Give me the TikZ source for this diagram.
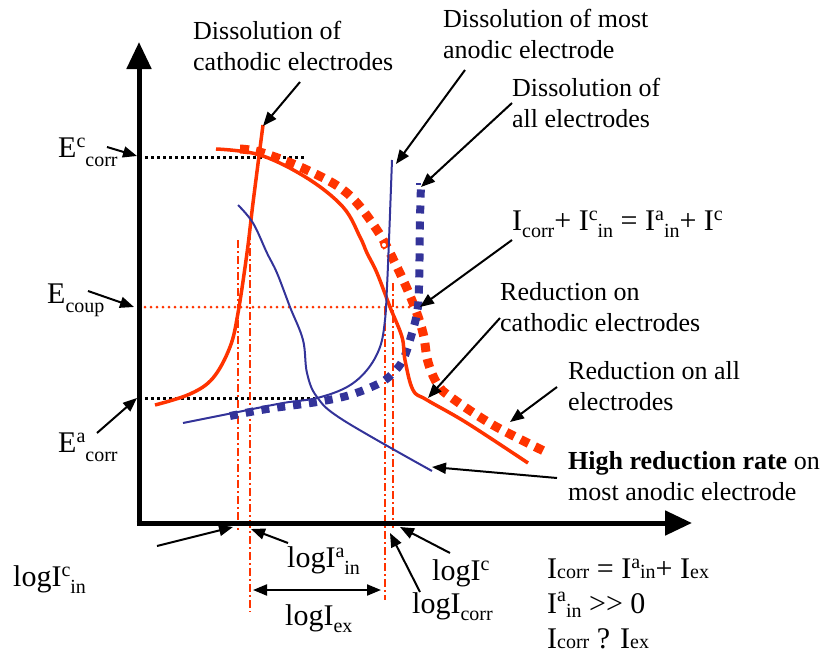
\documentclass[tikz,border=0pt]{standalone}
\usepackage{fontspec}
\setmainfont{Liberation Serif}
\usetikzlibrary{arrows.meta}
\definecolor{cred}{RGB}{255,51,0}
\definecolor{cblue}{RGB}{51,51,153}
\newcommand\Up[2][.32em]{\raisebox{#1}{\fontsize{20}{20}\selectfont #2}}
\newcommand\Dn[2][.25em]{\raisebox{-#1}{\fontsize{20}{20}\selectfont #2}}
\tikzset{
  txt/.style={anchor=base west,inner sep=0pt,align=left,font=\fontsize{26}{31}\selectfont},
  lbl/.style={anchor=base west,inner sep=0pt,align=left,font=\fontsize{30}{35}\selectfont},
  axis/.style={line width=5pt,-{Triangle[length=27pt,width=24pt]}},
  ptr/.style={line width=2pt,-{Triangle[length=14pt,width=11pt]}},
  dbl/.style={line width=2pt,{Triangle[length=14pt,width=11pt]}-{Triangle[length=14pt,width=11pt]}},
  blkdot/.style={line width=3pt,dash pattern=on 3pt off 3pt},
  reddot/.style={cred,line width=3pt,line cap=round,dash pattern=on 0pt off 6pt},
  dashdot/.style={cred,line width=2.5pt,dash pattern=on 8pt off 3pt on 2pt off 3pt},
  redsolid/.style={cred,line width=3.5pt},
  bluesolid/.style={cblue,line width=2pt},
  reddash/.style={cred,line width=9pt,dash pattern=on 9pt off 7pt},
  bluedash/.style={cblue,line width=8pt,dash pattern=on 8pt off 8pt},
}
\begin{document}
\begin{tikzpicture}[x=1pt,y=-1pt]
\useasboundingbox (0,0) rectangle (825,656);
% guide lines
\draw[blkdot] (139,157) -- (305,157);
\draw[blkdot] (139,398) -- (315,398);
\draw[reddot] (139,307) -- (420,307);
\draw[dashdot] (238,240) -- (238,530);
\draw[dashdot] (250,232) -- (250,612);
\draw[dashdot] (385,307) -- (385,600);
\draw[dashdot] (393,283) -- (393,528);
% curves
\draw[reddash] plot[smooth,tension=0.6] coordinates {(240,149) (263,153) (307,170) (347,193) (377,230) (397,267) (413,303) (423,333) (428,362) (438,385) (452,398) (493,425) (546,452)};
\draw[bluedash] plot[smooth,tension=0.6] coordinates {(230,416) (267,409) (317,402) (350,395) (380,383) (393,373) (403,360) (410,340) (417,313) (419,287) (420,220) (421,185)};
\draw[cblue,line width=1.5pt] (416,184) -- (421,184);
\draw[redsolid] plot[smooth,tension=0.6] coordinates {(216,149) (260,155) (307,178) (343,207) (360,237) (367,253) (377,273) (390,307) (402,337) (405,360) (413,390) (427,400) (467,423) (528,463)};
\draw[redsolid] plot[smooth,tension=0.6] coordinates {(155,405) (190,394) (213,378) (230,347) (238,313) (247,253) (253,203) (263,125)};
\draw[bluesolid] plot[smooth,tension=0.6] coordinates {(183,423) (233,413) (283,403) (317,398) (347,387) (367,370) (380,347) (385,320) (387,287) (389,240) (392,160)};
\draw[bluesolid] plot[smooth,tension=0.6] coordinates {(238,205) (253,223) (267,253) (277,273) (290,307) (303,340) (307,373) (317,397) (343,420) (432,471)};
\draw[cred,line width=1.5pt,fill=white] (384,245) circle (3pt);
% axes
\coordinate (O) at (139,523);
\coordinate (ytop) at (139,42);
\coordinate (xend) at (692,523);
\draw[axis] (139,525.5) -- (ytop);
\draw[axis] (136.5,523) -- (xend);
% labels (base = last line)
\node[txt] (d1) at (193,70) {Dissolution of\\cathodic electrodes};
\node[txt] (d2) at (443,58) {Dissolution of most\\anodic electrode};
\node[txt] (d3) at (512,127) {Dissolution of\\all electrodes};
\node[lbl] (eq) at (512,230) {I\Dn{corr}+ I\Up{c}\Dn{in} = I\Up{a}\Dn{in}+ I\Up{c}};
\node[txt] (r1) at (500,331) {Reduction on\\cathodic electrodes};
\node[txt] (r2) at (568,410) {Reduction on all\\electrodes};
\node[txt] (r3) at (568,500) {\textbf{High reduction rate} on\\most anodic electrode};
\node[lbl] (Ec) at (58,157) {E\Up{c}\Dn[.33em]{corr}};
\node[lbl] (Ecp) at (47,303) {E\Dn[.3em]{coup}};
\node[lbl] (Ea) at (58,452) {E\Up{a}\Dn[.33em]{corr}};
\node[lbl] (Lcin) at (13,586) {logI\Up{c}\Dn{in}};
\node[lbl] (Lain) at (287,567) {logI\Up{a}\Dn{in}};
\node[lbl] (Lex) at (285,625) {logI\Dn{ex}};
\node[lbl] (Lc) at (432,580) {logI\Up{c}};
\node[lbl] (Lcorr) at (412,613) {logI\Dn{corr}};
\node[lbl] (eqs) at (547,648) {I\Dn[.03em]{corr} = I\Up{a}\Dn[.03em]{in}+ I\Dn[.03em]{ex}\\I\Up[.4em]{a}\Dn[.15em]{in} >\kern0pt> 0\\I\Dn[.03em]{corr} ? I\Dn[.03em]{ex}};
% arrow coordinates
\coordinate (a1s) at (300,82);  \coordinate (a1e) at (263,126);
\coordinate (a2s) at (465,70);  \coordinate (a2e) at (396,164);
\coordinate (a3s) at (512,103); \coordinate (a3e) at (421,187);
\coordinate (a4s) at (512,240); \coordinate (a4e) at (420,307);
\coordinate (a5s) at (500,318); \coordinate (a5e) at (428,398);
\coordinate (a6s) at (557,387); \coordinate (a6e) at (510,422);
\coordinate (a7s) at (557,478); \coordinate (a7e) at (432,467);
\coordinate (a8s) at (107,147); \coordinate (a8e) at (137,156);
\coordinate (a9s) at (88,291);  \coordinate (a9e) at (134,307);
\coordinate (a10s) at (97,433); \coordinate (a10e) at (137,398);
\coordinate (a11s) at (157,546); \coordinate (a11e) at (233,527);
\coordinate (a12s) at (288,543); \coordinate (a12e) at (251,529);
\coordinate (a13s) at (420,592); \coordinate (a13e) at (390,533);
\coordinate (a14s) at (450,553); \coordinate (a14e) at (400,527);
\coordinate (exl) at (253,590); \coordinate (exr) at (381,590);
\foreach \i in {1,...,14} \draw[ptr] (a\i s) -- (a\i e);
\draw[dbl] (exl) -- (exr);
\end{tikzpicture}
\end{document}
